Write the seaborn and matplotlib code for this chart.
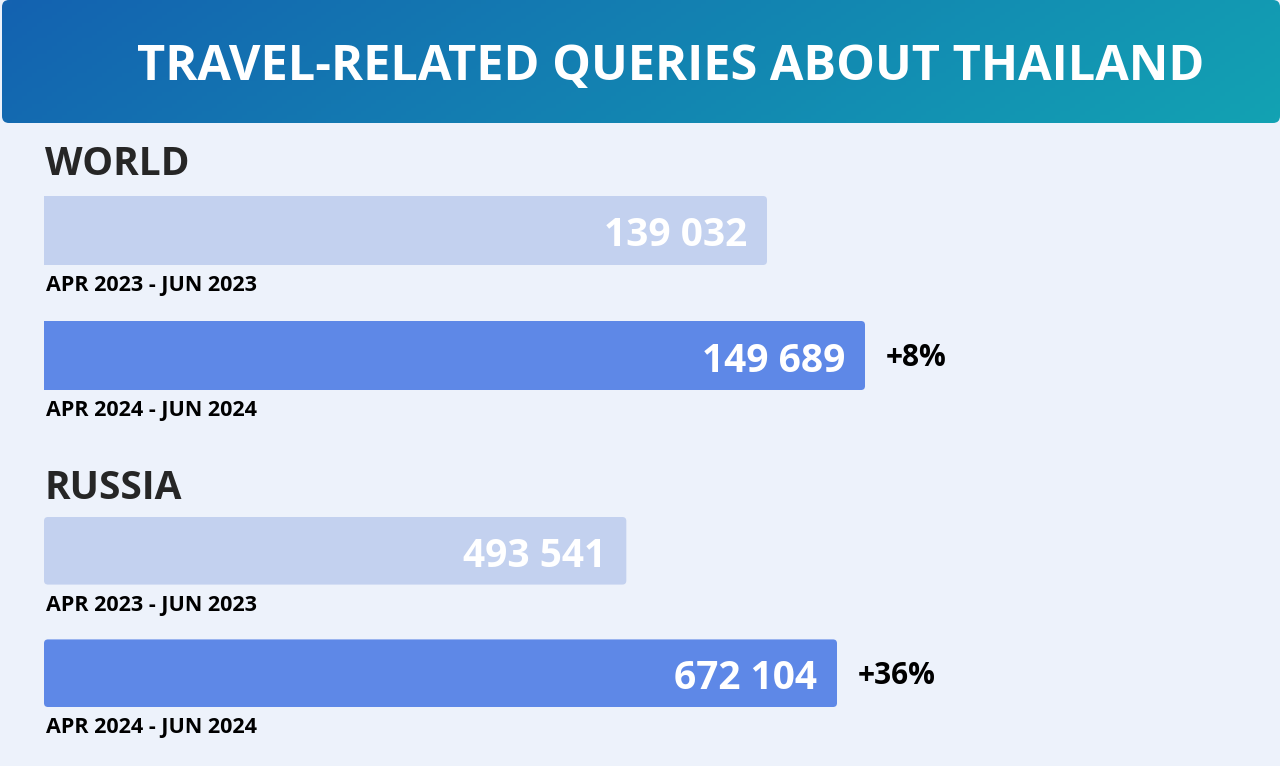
import numpy as np
import pandas as pd
import matplotlib
matplotlib.use("Agg")
import matplotlib.pyplot as plt
import seaborn as sns
from matplotlib.patches import FancyBboxPatch

# ---- data ----
title = "TRAVEL-RELATED QUERIES ABOUT THAILAND"
groups = ["WORLD", "RUSSIA"]
periods = ["APR 2023 - JUN 2023", "APR 2024 - JUN 2024"]
world_values = [139032, 149689]
russia_values = [493541, 672104]
bar_colors = ["#c3d1ef", "#5e88e7"]

sns.set_theme(style="white")
plt.rcParams["font.family"] = ["Open Sans", "DejaVu Sans"]

W, H = 1280, 766
PT = 72 / 100  # points per pixel
fig = plt.figure(figsize=(W / 100, H / 100), dpi=100)
fig.patch.set_facecolor("#edf2fb")


def px_rect(x0, y0, x1, y1):
    return [x0 / W, 1 - y1 / H, (x1 - x0) / W, (y1 - y0) / H]


# ---- header with gradient ----
HW, HH = 1278, 123
hax = fig.add_axes(px_rect(2, 0, 2 + HW, HH))
hax.set_axis_off()
hax.set_xlim(0, HW)
hax.set_ylim(0, HH)
gx = np.linspace(0, 1, 256)
gy = np.linspace(0, 1, 32)
GX, GY = np.meshgrid(gx, gy)
grad = np.clip(0.88 * GX + 0.12 * (1 - GY), 0, 1)
cmap = matplotlib.colors.LinearSegmentedColormap.from_list("hdr", ["#1462b0", "#12a2b3"])
im = hax.imshow(grad, extent=[0, HW, 0, HH], origin="lower", aspect="auto", cmap=cmap)
clip = FancyBboxPatch((0, 0), HW, HH, boxstyle="round,pad=0,rounding_size=7",
                      transform=hax.transData, facecolor="none", edgecolor="none")
hax.add_patch(clip)
im.set_clip_path(clip)
hax.text(669, HH - 80, title, ha="center", va="baseline", color="white",
         fontsize=35, fontweight="bold")


def fmt(v):
    return f"{v:,}".replace(",", " ")


def draw_group(rect, pxw, pxh, name, values, xlim, name_gap):
    ax = fig.add_axes(rect)
    df = pd.DataFrame({"period": periods, "value": values})
    sns.barplot(data=df, x="value", y="period", hue="period", palette=bar_colors,
                orient="h", width=0.552, legend=False, saturation=1, linewidth=0, ax=ax)
    ax.set_xlim(*xlim)
    ylim = (1.276, -0.276)
    ax.set_ylim(*ylim)
    ax.set_axis_off()
    ax.patch.set_alpha(0)
    # rounded bar corners
    xr = (xlim[1] - xlim[0]) / pxw
    yr = abs(ylim[0] - ylim[1]) / pxh
    for p in list(ax.patches):
        x0, y0, w, h = p.get_x(), p.get_y(), p.get_width(), p.get_height()
        fc = p.get_facecolor()
        p.remove()
        ax.add_patch(FancyBboxPatch((x0, y0), w, h,
                                    boxstyle=f"round,pad=0,rounding_size={4 * xr}",
                                    mutation_aspect=yr / xr, facecolor=fc,
                                    edgecolor="none", linewidth=0))
    ytr = ax.get_yaxis_transform()
    for i, v in enumerate(values):
        ax.annotate(fmt(v), xy=(v, i), xytext=(-20 * PT, -16 * PT), textcoords="offset points",
                    ha="right", va="baseline", color="white",
                    fontsize=28, fontweight="bold")
        ax.annotate(periods[i], xy=(0, i + 0.276), xycoords=ytr, xytext=(2 * PT, -26 * PT),
                    textcoords="offset points", ha="left", va="baseline",
                    color="black", fontsize=15.5, fontweight="bold")
    pct = (values[1] / values[0] - 1) * 100
    ax.annotate(f"+{pct:.0f}%", xy=(values[1], 1), xytext=(21 * PT, -10.5 * PT),
                textcoords="offset points", ha="left", va="baseline",
                color="black", fontsize=21.5, fontweight="bold")
    ax.annotate(name, xy=(0, -0.276), xycoords=ytr, xytext=(1 * PT, name_gap * PT),
                textcoords="offset points", ha="left", va="baseline",
                color="#262626", fontsize=28, fontweight="bold")
    return ax


# World: axis clipped so bars match reference lengths
s_w = (821 - 723) / (world_values[1] - world_values[0])
L_w = world_values[0] - 723 / s_w
draw_group(px_rect(44, 196, 1280, 390), 1236, 194, groups[0], world_values,
           (L_w, L_w + 1236 / s_w), 21)

s_r = 793 / russia_values[1]
draw_group(px_rect(44, 517, 1280, 707), 1236, 190, groups[1], russia_values,
           (0, 1236 / s_r), 18)

fig.savefig("out.png", dpi=100, facecolor=fig.get_facecolor())
